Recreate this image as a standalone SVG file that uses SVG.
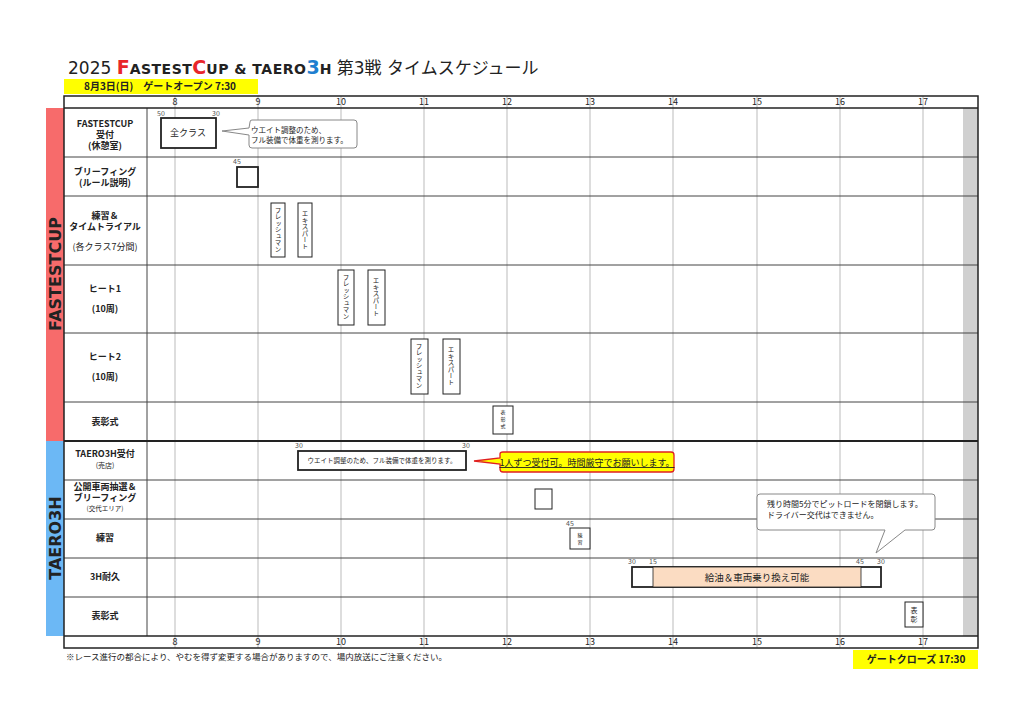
<svg xmlns="http://www.w3.org/2000/svg" width="1024" height="724" viewBox="0 0 1024 724">
<style>
text{font-family:"Noto Sans CJK JP","Noto Sans",sans-serif;fill:#222}
.lbl{font-size:9px;text-anchor:middle;font-weight:bold}
.hr{font-size:9px;text-anchor:middle;fill:#444}
.sm{font-size:7px;fill:#555}
.vl{stroke:#bbb;stroke-width:1}
.hl{stroke:#444;stroke-width:1}
.box{fill:#fff;stroke:#222;stroke-width:1}
.bx2{fill:#fff;stroke:#222;stroke-width:1.8}
.vt{font-size:6.5px;writing-mode:vertical-rl;text-anchor:middle}
</style>
<rect width="1024" height="724" fill="#fff"/>
<text x="68" y="74" font-size="17" style="font-family:'DejaVu Sans','Noto Sans CJK JP',sans-serif">2025  <tspan fill="#e8262a" font-weight="bold" font-size="19">F</tspan><tspan font-weight="bold" font-size="14" letter-spacing="0.5">ASTEST</tspan><tspan fill="#e8262a" font-weight="bold" font-size="19">C</tspan><tspan font-weight="bold" font-size="14" letter-spacing="0.5">UP  &amp;  TAERO</tspan><tspan fill="#1f7fd0" font-weight="bold" font-size="19">3</tspan><tspan font-weight="bold" font-size="14">H</tspan>  第3戦  タイムスケジュール</text>
<rect x="64" y="79" width="194" height="15" fill="#ffff00"/>
<text x="160" y="90" font-size="10" font-weight="bold" text-anchor="middle">8月3日(日)　ゲートオープン 7:30</text>
<rect x="46" y="108" width="18" height="333" fill="#f76b6b"/>
<rect x="46" y="441" width="18" height="195" fill="#6cb8f5"/>
<text transform="translate(61,274) rotate(-90)" font-size="16" font-weight="bold" text-anchor="middle" style="font-family:'DejaVu Sans',sans-serif">FASTESTCUP</text>
<text transform="translate(61,538) rotate(-90)" font-size="16" font-weight="bold" text-anchor="middle" style="font-family:'DejaVu Sans',sans-serif">TAERO3H</text>
<rect x="963" y="108" width="15" height="528" fill="#d0d0d0"/>
<g id="grid">
<g class="vl"><line x1="175" y1="96" x2="175" y2="648"/><line x1="258" y1="96" x2="258" y2="648"/><line x1="341" y1="96" x2="341" y2="648"/><line x1="424" y1="96" x2="424" y2="648"/><line x1="507" y1="96" x2="507" y2="648"/><line x1="590" y1="96" x2="590" y2="648"/><line x1="673" y1="96" x2="673" y2="648"/><line x1="757" y1="96" x2="757" y2="648"/><line x1="840" y1="96" x2="840" y2="648"/><line x1="923" y1="96" x2="923" y2="648"/></g>
<g class="hl"><line x1="64" y1="157" x2="978" y2="157"/><line x1="64" y1="196" x2="978" y2="196"/><line x1="64" y1="265" x2="978" y2="265"/><line x1="64" y1="333" x2="978" y2="333"/><line x1="64" y1="402" x2="978" y2="402"/><line x1="64" y1="480" x2="978" y2="480"/><line x1="64" y1="519" x2="978" y2="519"/><line x1="64" y1="558" x2="978" y2="558"/><line x1="64" y1="597" x2="978" y2="597"/><line x1="147" y1="108" x2="147" y2="636"/></g>
<line x1="64" y1="108" x2="978" y2="108" stroke="#222" stroke-width="1.5"/>
<line x1="64" y1="441" x2="978" y2="441" stroke="#222" stroke-width="2"/>
<line x1="64" y1="636" x2="978" y2="636" stroke="#222" stroke-width="1.5"/>
<rect x="64" y="96" width="914" height="552" fill="none" stroke="#222" stroke-width="1.5"/>
<g class="hr"><text x="175" y="105">8</text><text x="258" y="105">9</text><text x="341" y="105">10</text><text x="424" y="105">11</text><text x="507" y="105">12</text><text x="590" y="105">13</text><text x="673" y="105">14</text><text x="757" y="105">15</text><text x="840" y="105">16</text><text x="923" y="105">17</text>
<text x="175" y="645">8</text><text x="258" y="645">9</text><text x="341" y="645">10</text><text x="424" y="645">11</text><text x="507" y="645">12</text><text x="590" y="645">13</text><text x="673" y="645">14</text><text x="757" y="645">15</text><text x="840" y="645">16</text><text x="923" y="645">17</text></g>
</g>
<g id="labels">
<text class="lbl" x="105" y="127">FASTESTCUP<tspan x="105" dy="11">受付</tspan><tspan x="105" dy="11">(休憩室)</tspan></text>
<text class="lbl" x="105" y="175" font-weight="normal">ブリーフィング<tspan x="105" dy="11">(ルール説明)</tspan></text>
<text class="lbl" x="105" y="219">練習＆<tspan x="105" dy="11">タイムトライアル</tspan><tspan x="105" dy="20" font-weight="normal">(各クラス7分間)</tspan></text>
<text class="lbl" x="105" y="292" font-weight="normal">ヒート1<tspan x="105" dy="20">(10周)</tspan></text>
<text class="lbl" x="105" y="360" font-weight="normal">ヒート2<tspan x="105" dy="20">(10周)</tspan></text>
<text class="lbl" x="105" y="425">表彰式</text>
<text class="lbl" x="105" y="457" font-size="7.5">TAERO3H受付</text>
<text x="105" y="468" font-size="7" text-anchor="middle">(売店)</text>
<text class="lbl" x="105" y="490" font-size="7">公開車両抽選＆</text>
<text class="lbl" x="105" y="500.5" font-size="7">ブリーフィング</text>
<text x="105" y="511" font-size="6.5" text-anchor="middle">(交代エリア)</text>
<text class="lbl" x="105" y="541" font-size="7.5">練習</text>
<text class="lbl" x="105" y="580" font-size="7.5">3H耐久</text>
<text class="lbl" x="105" y="619" font-size="7.5">表彰式</text>
</g>
<g id="nodes">
<g id="n-all"><rect class="bx2" x="161" y="118" width="55" height="30"/><text x="188" y="136" font-size="9" text-anchor="middle">全クラス</text><text class="sm" x="157" y="116">50</text><text class="sm" x="212" y="116">30</text></g>
<g id="bubble1"><path d="M250,122 Q250,120 252,120 L354,120 Q357,120 357,123 L357,145 Q357,148 354,148 L252,148 Q249,148 249,145 L249,135 L222,131 L249,128 Z" fill="#fff" stroke="#888"/><text x="251" y="133" font-size="7.5">ウエイト調整のため、<tspan x="251" dy="10">フル装備で体重を測ります。</tspan></text></g>
<g id="n-brief"><rect class="bx2" x="237" y="167" width="21" height="20"/><text class="sm" x="233" y="164">45</text></g>
<g id="n-p1"><rect class="box" x="271" y="203" width="14" height="54"/><text class="vt" x="278" y="230">フレッシュマン</text></g>
<g id="n-p2"><rect class="box" x="298" y="203" width="14" height="54"/><text class="vt" x="305" y="230">エキスパート</text></g>
<g id="n-h11"><rect class="box" x="338" y="270" width="16" height="55"/><text class="vt" x="346" y="297">フレッシュマン</text></g>
<g id="n-h12"><rect class="box" x="368" y="270" width="17" height="55"/><text class="vt" x="376" y="297">エキスパート</text></g>
<g id="n-h21"><rect class="box" x="411" y="339" width="17" height="55"/><text class="vt" x="419" y="366">フレッシュマン</text></g>
<g id="n-h22"><rect class="box" x="443" y="339" width="17" height="55"/><text class="vt" x="451" y="366">エキスパート</text></g>
<g id="n-award1"><rect class="box" x="493" y="406" width="20" height="28"/><text x="503" y="414" font-size="5" text-anchor="middle">表<tspan x="503" dy="7">彰</tspan><tspan x="503" dy="7">式</tspan></text></g>
<g id="n-tr"><rect class="bx2" x="298" y="451" width="168" height="19"/><text x="382" y="463" font-size="6.5" text-anchor="middle">ウエイト調整のため、フル装備で体重を測ります。</text><text class="sm" x="295" y="448">30</text><text class="sm" x="462" y="448">30</text></g>
<g id="bubble2"><path d="M500,454 Q500,452 503,452 L671,452 Q674,452 674,455 L674,469 Q674,472 671,472 L503,472 Q500,472 500,469 L500,464 L474,461 L500,458 Z" fill="#ffff00" stroke="#e02020" stroke-width="1.3"/><text x="587" y="466" font-size="9" text-anchor="middle" text-decoration="underline">1人ずつ受付可。時間厳守でお願いします。</text></g>
<g id="n-draw"><rect class="box" x="535" y="489" width="17" height="20"/></g>
<g id="n-prac"><rect class="box" x="570" y="528" width="20" height="21"/><text x="580" y="537" font-size="5" text-anchor="middle">練<tspan x="580" dy="7">習</tspan></text><text class="sm" x="566" y="526">45</text></g>
<g id="n-3h"><rect class="bx2" x="632" y="567" width="249" height="20"/><rect x="653" y="567" width="208" height="20" fill="#fbdcc2" stroke="#222" stroke-width="0.8"/><text x="757" y="581" font-size="9.5" text-anchor="middle">給油＆車両乗り換え可能</text><text class="sm" x="628" y="564">30</text><text class="sm" x="649" y="564">15</text><text class="sm" x="856" y="564">45</text><text class="sm" x="877" y="564">30</text></g>
<g id="n-award2"><rect class="box" x="905" y="602" width="18" height="25"/><text x="914" y="613" font-size="7" text-anchor="middle">表<tspan x="914" dy="9">彰</tspan></text></g>
<g id="bubble3"><path d="M760,494 L932,494 Q935,494 935,497 L935,527 Q935,530 932,530 L905,530 L876,553 L885,530 L760,530 Q757,530 757,527 L757,497 Q757,494 760,494 Z" fill="#fff" stroke="#888"/><text x="767" y="507" font-size="8">残り時間5分でピットロードを閉鎖します。<tspan x="767" dy="11">ドライバー交代はできません。</tspan></text></g>
</g>
<text x="66" y="660" font-size="8.5">※レース進行の都合により、やむを得ず変更する場合がありますので、場内放送にご注意ください。</text>
<rect x="853" y="650" width="125" height="19" fill="#ffff00"/>
<text x="916" y="663" font-size="10" font-weight="bold" text-anchor="middle">ゲートクローズ 17:30</text>
<g id="connectors"/>
</svg>
